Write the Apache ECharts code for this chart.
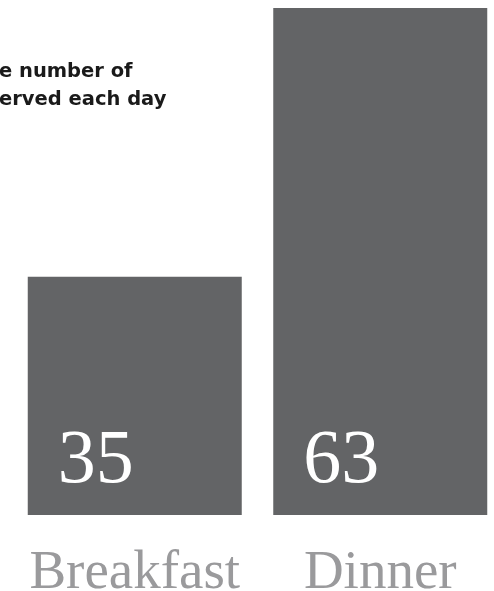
<!DOCTYPE html>
<html>
<head>
<meta charset="utf-8">
<script src="https://cdn.jsdelivr.net/npm/echarts@6/dist/echarts.min.js"></script>
<style>
  html, body { margin: 0; padding: 0; background: #fff; }
  #chart { width: 494px; height: 591px; }
</style>
</head>
<body>
<div id="chart"></div>
<script>
// meals served per day
const categories = ["Breakfast", "Dinner"];
const meals = [35, 63];
const titleLines = ["e number of", "erved each day"];
const axisMin = 10.2;
const axisMax = 63;

const chart = echarts.init(document.getElementById("chart"));

const option = {
  animation: false,
  title: {
    text: titleLines.join("\n"),
    left: -1,
    top: 58,
    padding: 0,
    textStyle: {
      fontFamily: "DejaVu Sans",
      fontWeight: "bold",
      fontSize: 19.5,
      lineHeight: 28,
      color: "#1a1a1a",
    },
  },
  grid: {
    left: 12,
    right: -9,
    top: 8,
    bottom: 76,
    outerBoundsMode: "none",
    containLabel: false,
  },
  xAxis: {
    type: "category",
    data: categories,
    axisLine: { show: false },
    axisTick: { show: false },
    axisLabel: {
      interval: 0,
      hideOverlap: false,
      margin: 31,
      fontFamily: "Liberation Serif",
      fontSize: 55,
      color: "#9a9a9c",
    },
  },
  yAxis: {
    type: "value",
    min: axisMin,
    max: axisMax,
    show: false,
    splitLine: { show: false },
  },
  series: [
    {
      type: "bar",
      data: meals,
      barWidth: 214,
      itemStyle: { color: "#636466" },
      label: {
        show: true,
        position: "insideBottomLeft",
        distance: 30,
        offset: [0, 15],
        fontFamily: "Liberation Serif",
        fontSize: 76,
        color: "#ffffff",
      },
    },
  ],
};

chart.setOption(option);
</script>
</body>
</html>
